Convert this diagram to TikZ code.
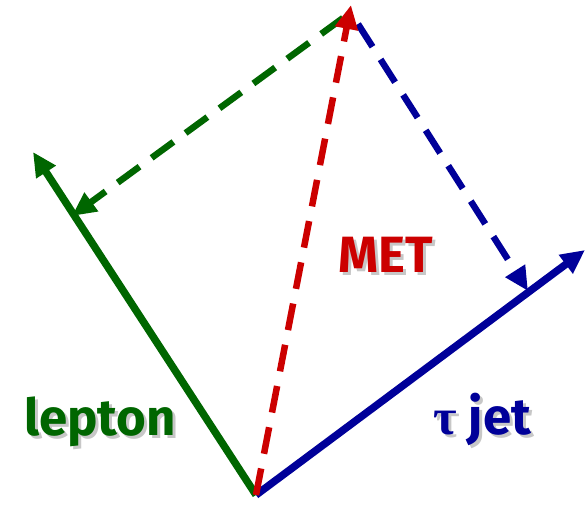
\documentclass[tikz,border=0pt]{standalone}
\usepackage{fontspec}
\setmainfont{Fira Sans}
\newfontfamily\greekfont{Liberation Serif}
\usetikzlibrary{arrows.meta}

\definecolor{leptongreen}{RGB}{0,102,0}
\definecolor{metred}{RGB}{204,0,0}
\definecolor{jetblue}{RGB}{0,0,153}

% label with a soft drop shadow
\newcommand{\shadowlabel}[2]{\makebox[0pt][l]{\hspace{3pt}\raisebox{-3pt}{\color{black!22}#2}}{\color{#1}#2}}

\begin{document}
\begin{tikzpicture}[
        x=1pt, y=-1pt,
        vec/.style={line width=7.5pt, -{Triangle[length=24pt,width=22pt]}},
        proj/.style={vec, line width=6.5pt, dash pattern=on 27pt off 15pt},
        label/.style={font=\fontsize{51}{55}\selectfont\bfseries, inner sep=0pt}
    ]
    \useasboundingbox (0,0) rectangle (585,506);

    % vectors
    \coordinate (o) at (256,495);
    \coordinate (lep) at (33,152);
    \coordinate (jet) at (585,250);
    \coordinate (met) at (351,5);

    % projection end points
    \coordinate (metL) at (343,18);
    \coordinate (lepP) at (72,216);
    \coordinate (metJ) at (358,24);
    \coordinate (jetP) at (528,291);

    % dashed projections
    \draw[proj, leptongreen] (metL) -- (lepP);
    \draw[proj, jetblue] (metJ) -- (jetP);

    % solid momenta
    \draw[vec, leptongreen] (o) -- (lep);
    \draw[vec, jetblue] (o) -- (jet);

    % missing energy
    \draw[proj, metred] (o) -- (met);

    % labels
    \node[label] (leptonlabel) at (100,423) {\shadowlabel{leptongreen}{lepton}};
    \node[label] (metlabel) at (386,256) {\shadowlabel{metred}{MET}};
    \node[label] (jetlabel) at (482,421) {\shadowlabel{jetblue}{{\greekfont τ} jet}};
\end{tikzpicture}
\end{document}
